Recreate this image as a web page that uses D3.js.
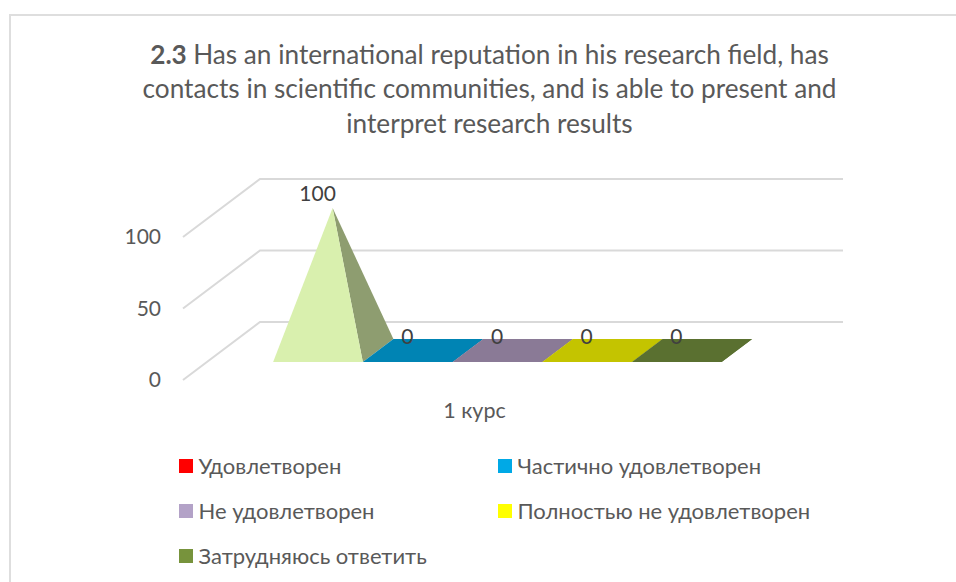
<!DOCTYPE html>
<html><head><meta charset="utf-8">
<script src="https://cdn.jsdelivr.net/npm/d3@7"></script>
<style>html,body{margin:0;padding:0;background:#fff}svg{display:block}text{font-family:Lato,"Open Sans",sans-serif}</style>
</head><body><div id="c"></div>
<script>
const titleBold = "2.3";
const titleLines = ["Has an international reputation in his research field, has","contacts in scientific communities, and is able to present and","interpret research results"];
const categories = ["1 курс"];
const seriesNames = ["Удовлетворен","Частично удовлетворен","Не удовлетворен","Полностью не удовлетворен","Затрудняюсь ответить"];
const seriesValues = [100,0,0,0,0];
const legendColors = ["#ff0000","#00a9e6","#b3a2c7","#ffff00","#77933c"];
const frontColors = ["#d9f0ae","#0084b4","#8a7a96","#c4c400","#5a7030"];
const sideColors = ["#8e9d70","#0084b4","#8a7a96","#c4c400","#5a7030"];
const yTicks = [0,50,100];

const W=956,H=582;
const svg=d3.select("#c").append("svg").attr("width",W).attr("height",H);
svg.append("rect").attr("width",W).attr("height",H).attr("fill","#fff");
svg.append("path").attr("d","M10 582V15H956").attr("fill","none").attr("stroke","#dedede").attr("stroke-width",2);

const title=svg.append("text").attr("text-anchor","middle").attr("fill","#595959").attr("font-size",26.2);
titleLines.forEach((l,i)=>{
  const t=title.append("tspan").attr("x",489.5).attr("y",63.5+i*34.7);
  if(i===0){t.append("tspan").attr("font-weight",700).text(titleBold+" ");}
  t.append("tspan").text(l);
});

const dx=77,dy=58;
const y=d3.scaleLinear().domain([0,100]).range([380,237]);
const xCat=d3.scaleBand().domain(categories).range([182,765]).paddingInner(0).paddingOuter(0.15);
const xS=d3.scaleBand().domain(seriesNames).range([xCat(categories[0]),xCat(categories[0])+xCat.bandwidth()]);
const P=(x,v,d)=>[x+dx*d,y(v)-dy*d];
const line=d3.line();

const grid=svg.append("g");
yTicks.forEach(v=>{
  grid.append("path").attr("d",line([P(183,v,0),P(183,v,1),P(766,v,1)]))
    .attr("fill","none").attr("stroke","#d9d9d9").attr("stroke-width",2);
});
svg.append("g").selectAll("text").data(yTicks).join("text")
  .attr("x",161).attr("y",v=>y(v)+7).attr("text-anchor","end")
  .attr("font-size",21).attr("fill","#595959").text(d=>d);

const d0=0.31,d1=0.707,dm=0.5;
const bars=svg.append("g");
seriesNames.forEach((s,i)=>{
  const v=seriesValues[i],x0=xS(s),x1=x0+xS.bandwidth(),xm=(x0+x1)/2;
  const apex=P(xm,v,dm);
  bars.append("path").attr("d",line([P(x1,0,d0),P(x1,0,d1),apex])+"Z").attr("fill",sideColors[i]);
  if(v===0){
    bars.append("path").attr("d",line([P(x0,0,d0),P(x1,0,d0),P(x1,0,d1),P(x0,0,d1)])+"Z").attr("fill",frontColors[i]);
  } else {
    bars.append("path").attr("d",line([P(x0,0,d0),P(x1,0,d0),apex])+"Z").attr("fill",frontColors[i]);
  }
});
svg.append("g").selectAll("text").data(seriesNames).join("text")
  .attr("x",s=>P(xS(s)+xS.bandwidth()/2,0,dm)[0]-15)
  .attr("y",(s,i)=>P(0,seriesValues[i],dm)[1]-7.5)
  .attr("text-anchor","middle").attr("font-size",21).attr("fill","#404040")
  .text((s,i)=>seriesValues[i]);

svg.append("text").attr("x",474.5).attr("y",418).attr("text-anchor","middle")
  .attr("font-size",21.5).attr("fill","#595959").text(categories[0]);

const legendX=[179,498],legendY=[466,511,556];
const lg=svg.append("g");
seriesNames.forEach((s,i)=>{
  const cx=legendX[i%2],cy=legendY[Math.floor(i/2)];
  lg.append("rect").attr("x",cx).attr("y",cy-7).attr("width",14).attr("height",14).attr("fill",legendColors[i]);
  lg.append("text").attr("x",cx+19.5).attr("y",cy+7.5).attr("font-size",22).attr("fill","#595959").text(s);
});
</script></body></html>
